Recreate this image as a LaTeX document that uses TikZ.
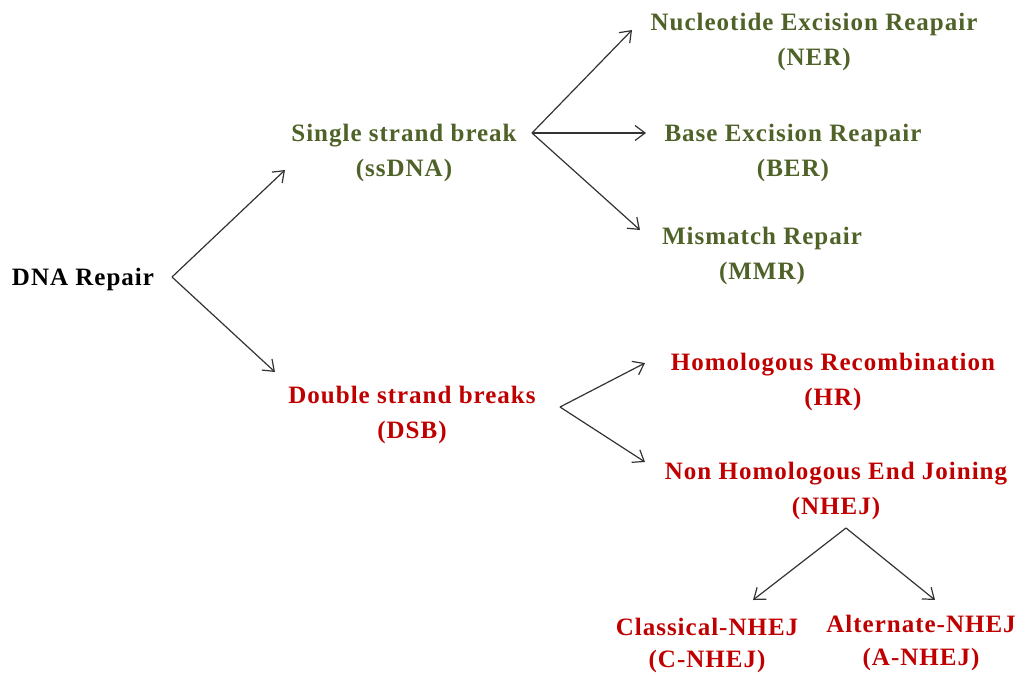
\documentclass[tikz,border=0pt]{standalone}
\usepackage{fontspec}
\setmainfont{Liberation Serif}[LetterSpace=4]
\usetikzlibrary{arrows.meta}
\definecolor{olivet}{HTML}{4F6228}
\definecolor{redt}{HTML}{C00000}
\definecolor{arrowc}{HTML}{333333}
\begin{document}
\begin{tikzpicture}[x=1pt,y=-1pt,
  lbl/.style={inner sep=0pt,align=center,font=\fontsize{25}{35}\selectfont\bfseries},
  grn/.style={lbl,text=olivet},
  rd/.style={lbl,text=redt},
  arr/.style={draw=arrowc,line width=1.2pt,-{Straight Barb[length=10pt,width=15pt,line width=1.2pt]}}]
\useasboundingbox[fill=white] (0,0) rectangle (1019,675);
\node[lbl] (dna) at (83,279) {DNA Repair};
\node[grn] (ssb) at (404,153) {Single strand break\\(ssDNA)};
\node[grn] (ner) at (814,42) {Nucleotide Excision Reapair\\(NER)};
\node[grn] (ber) at (793,153) {Base Excision Reapair\\(BER)};
\node[grn] (mmr) at (762,256) {Mismatch Repair\\(MMR)};
\node[rd] (dsb) at (412,415) {Double strand breaks\\(DSB)};
\node[rd] (hr) at (833,382) {Homologous Recombination\\(HR)};
\node[rd] (nhej) at (836,491) {Non Homologous End Joining\\(NHEJ)};
\node[rd] (cn) at (707,645) {Classical-NHEJ\\[-3pt](C-NHEJ)};
\node[rd] (an) at (921,643) {Alternate-NHEJ\\[-2pt](A-NHEJ)};
% fork points and tips
\coordinate (f1) at (172,277);
\coordinate (t1a) at (285,170);
\coordinate (t1b) at (275,372);
\coordinate (f2) at (532,133);
\coordinate (t2a) at (632,30);
\coordinate (t2b) at (646,133);
\coordinate (t2c) at (640,230);
\coordinate (f3) at (560,407);
\coordinate (t3a) at (645,363);
\coordinate (t3b) at (645,462);
\coordinate (f4) at (846,528);
\coordinate (t4a) at (753,600);
\coordinate (t4b) at (935,600);
\draw[arr] (f1) -- (t1a);
\draw[arr] (f1) -- (t1b);
\draw[arr] (f2) -- (t2a);
\draw[arr] (f2) -- (t2b);
\draw[arr] (f2) -- (t2c);
\draw[arr] (f3) -- (t3a);
\draw[arr] (f3) -- (t3b);
\draw[arr] (f4) -- (t4a);
\draw[arr] (f4) -- (t4b);
\end{tikzpicture}
\end{document}
